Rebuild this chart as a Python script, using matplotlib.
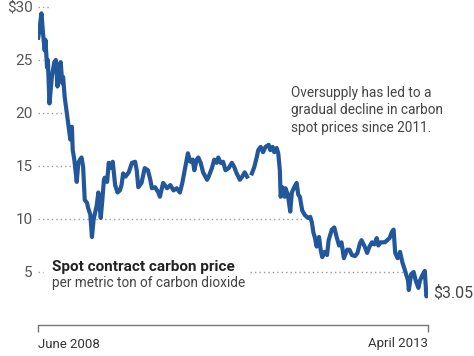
import matplotlib
matplotlib.use("Agg")
import matplotlib.pyplot as plt
import numpy as np
import pandas as pd

plt.rcParams['font.family'] = ['Roboto', 'DejaVu Sans']

# decimal years and spot price (USD per metric ton CO2)
years = [2008.42, 2008.43, 2008.46, 2008.48, 2008.50, 2008.51, 2008.53, 2008.54, 2008.56, 2008.59,
         2008.62, 2008.64, 2008.66, 2008.68, 2008.70, 2008.72, 2008.73, 2008.75, 2008.78, 2008.80,
         2008.82, 2008.84, 2008.85, 2008.87, 2008.88, 2008.90, 2008.92, 2008.94, 2008.96, 2008.98,
         2009.00, 2009.03, 2009.04, 2009.07, 2009.09, 2009.11, 2009.13, 2009.15, 2009.17, 2009.20,
         2009.22, 2009.24, 2009.25, 2009.28, 2009.30, 2009.32, 2009.35, 2009.38, 2009.41, 2009.44,
         2009.46, 2009.48, 2009.51, 2009.55, 2009.59, 2009.63, 2009.65, 2009.67, 2009.71, 2009.75,
         2009.79, 2009.82, 2009.84, 2009.88, 2009.92, 2009.94, 2009.98, 2010.03, 2010.07, 2010.11,
         2010.15, 2010.19, 2010.22, 2010.25, 2010.29, 2010.32, 2010.35, 2010.37, 2010.40, 2010.42,
         2010.45, 2010.48, 2010.53, 2010.55, 2010.59, 2010.62, 2010.65, 2010.67, 2010.70, 2010.73,
         2010.76, 2010.80, 2010.84, 2010.87, 2010.90, 2010.94, 2010.97, 2011.00, 2011.03, 2011.05,
         2011.09, 2011.12, 2011.15, 2011.17, 2011.20, 2011.23, 2011.26, 2011.30, 2011.32, 2011.35,
         2011.37, 2011.40, 2011.42, 2011.44, 2011.45, 2011.47, 2011.50, 2011.51, 2011.54, 2011.57,
         2011.59, 2011.62, 2011.65, 2011.67, 2011.69, 2011.72, 2011.75, 2011.79, 2011.82, 2011.84,
         2011.86, 2011.88, 2011.90, 2011.93, 2011.95, 2011.97, 2012.00, 2012.03, 2012.05, 2012.09,
         2012.12, 2012.15, 2012.18, 2012.21, 2012.24, 2012.28, 2012.31, 2012.34, 2012.38, 2012.41,
         2012.44, 2012.46, 2012.50, 2012.53, 2012.56, 2012.59, 2012.62, 2012.65, 2012.67, 2012.70,
         2012.75, 2012.78, 2012.81, 2012.84, 2012.86, 2012.88, 2012.91, 2012.94, 2012.97, 2013.00,
         2013.04, 2013.05, 2013.08, 2013.11, 2013.14, 2013.17, 2013.19, 2013.22, 2013.25, 2013.27,
         2013.29]
prices = [27.1, 27.6, 29.4, 27.5, 25.9, 26.9, 24.3, 25.0, 20.9, 23.4,
          24.8, 25.0, 22.5, 24.3, 24.8, 22.8, 23.4, 21.5, 19.8, 18.7,
          17.5, 18.7, 16.5, 15.6, 14.9, 13.5, 15.3, 15.6, 15.8, 14.9,
          11.8, 11.5, 11.1, 10.4, 8.3, 9.9, 10.6, 11.3, 12.5, 10.1,
          11.8, 13.7, 13.9, 13.5, 15.3, 14.8, 15.4, 13.2, 12.5, 12.7,
          13.2, 14.3, 14.0, 14.4, 15.3, 15.4, 14.6, 13.0, 13.4, 14.8,
          14.6, 13.7, 12.9, 13.0, 12.5, 12.1, 13.4, 12.9, 13.2, 12.7,
          12.9, 12.5, 13.4, 14.6, 16.2, 15.4, 15.6, 14.6, 15.6, 15.8,
          15.3, 14.4, 13.7, 14.0, 14.8, 15.6, 15.3, 15.8, 15.3, 15.4,
          14.6, 14.8, 15.3, 14.9, 14.3, 13.7, 14.0, 14.4, 14.0, np.nan,
          14.3, 14.9, 15.8, 16.5, 16.8, 16.3, 16.8, 17.0, 16.5, 16.8,
          16.3, 16.7, 16.2, 14.6, 12.1, 13.0, 12.1, 12.9, 12.3, 10.7,
          12.5, 13.0, 13.4, 12.3, 12.1, 10.8, 10.4, 10.1, 10.2, 9.7,
          8.7, 8.2, 7.4, 8.3, 7.1, 6.4, 6.9, 6.6, 8.0, 9.0,
          9.2, 8.3, 7.5, 7.8, 6.3, 7.1, 7.1, 6.6, 6.5, 6.8,
          7.7, 8.0, 7.4, 6.8, 7.4, 7.8, 7.6, 8.2, 7.5, 7.8,
          7.8, 8.0, 8.2, 8.8, 9.0, 6.8, 6.3, 6.9, 5.9, 5.2,
          4.2, 3.3, 4.8, 5.0, 4.1, 3.5, 4.2, 4.7, 5.1, 2.7,
          3.05]

y_ticks = [5, 10, 15, 20, 25, 30]
y_tick_labels = ["5", "10", "15", "20", "25", "$30"]
x_tick_years = [2008.417, 2013.29]
x_tick_labels = ["June 2008", "April 2013"]
last_label = "$3.05"


def to_date(y):
    yr = int(np.floor(y))
    start = pd.Timestamp(yr, 1, 1)
    end = pd.Timestamp(yr + 1, 1, 1)
    return start + (end - start) * (y - yr)


dates = [to_date(y) for y in years]

fig = plt.figure(figsize=(4.74, 3.56), dpi=100)
ax = fig.add_axes([38 / 474, 31 / 356, 390 / 474, 325 / 356])

x0 = to_date(2008.417)
x1 = to_date(2013.29)
ax.set_xlim(x0, x1)
ax.set_ylim(0, 30.66)

# dotted guide lines (end where they meet the line)
grid_col = '#9a9a9a'
dot = (0, (1, 2.2))
guides = [(30, 2008.57), (25, 2008.48), (20, 2008.74), (15, 2008.84), (10, 2011.72)]
for lvl, end in guides:
    ax.plot([x0, to_date(end)], [lvl, lvl], color=grid_col, lw=1, ls=dot, zorder=1)
ax.plot([x0, to_date(2008.48)], [5, 5], color=grid_col, lw=1, ls=dot, zorder=1)
ax.plot([to_date(2011.07), to_date(2013.0)], [5, 5], color=grid_col, lw=1, ls=dot, zorder=1)

ax.plot(dates, prices, color='#23579b', lw=3.0, solid_joinstyle='round', zorder=3)

for s in ['top', 'right', 'left']:
    ax.spines[s].set_visible(False)
ax.spines['bottom'].set_color('#777777')
ax.spines['bottom'].set_linewidth(1)

ax.set_yticks(y_ticks)
ax.set_yticklabels(y_tick_labels)
ax.tick_params(axis='y', length=0, pad=4, labelsize=11, labelcolor='#555555')

ax.set_xticks([to_date(v) for v in x_tick_years])
ax.set_xticklabels(x_tick_labels)
ax.tick_params(axis='x', length=5, width=1, color='#777777', direction='out', pad=4,
               labelsize=9.5, labelcolor='#333333')
labs = ax.get_xticklabels()
labs[0].set_horizontalalignment('left')
labs[1].set_horizontalalignment('right')

ax.text(to_date(2008.59), 5.47, "Spot contract carbon price", fontsize=11,
        fontweight='bold', color='#222222', va='center', ha='left', zorder=4)
ax.text(to_date(2008.59), 3.95, "per metric ton of carbon dioxide", fontsize=9.8,
        color='#444444', va='center', ha='left', zorder=4)

ax.text(to_date(2011.58), 22.55,
        "Oversupply has led to a\ngradual decline in carbon\nspot prices since 2011.",
        fontsize=9.8, color='#444444', va='top', ha='left', linespacing=1.3)

ax.annotate(last_label, xy=(dates[-1], prices[-1]), xytext=(3.5, 0),
            textcoords='offset points', fontsize=11.5, color='#444444',
            va='center', ha='left', annotation_clip=False)

fig.savefig('out.png', dpi=100)
